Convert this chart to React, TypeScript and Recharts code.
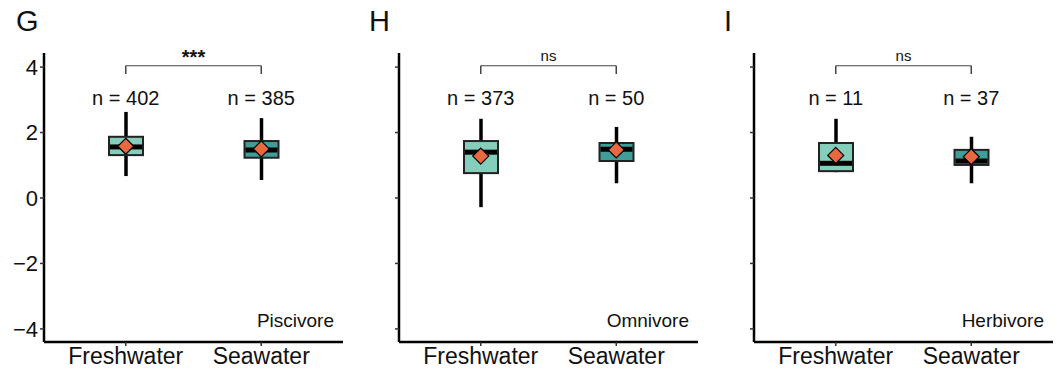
import { Bar, ComposedChart, ReferenceLine, Scatter, XAxis, YAxis } from 'recharts';

const CATEGORIES = ['Freshwater', 'Seawater'];
const PANEL_LETTERS = ['G', 'H', 'I'];
const DIETS = ['Piscivore', 'Omnivore', 'Herbivore'];
const SIGNIFICANCE = ['***', 'ns', 'ns'];
const N_COUNTS = [[402, 385], [373, 50], [11, 37]];
const WHISKER_LOW = [[0.67, 0.55], [-0.28, 0.45], [0.79, 0.45]];
const Q1 = [[1.31, 1.23], [0.76, 1.13], [0.82, 1.01]];
const MEDIAN = [[1.56, 1.47], [1.4, 1.49], [1.06, 1.13]];
const Q3 = [[1.87, 1.74], [1.74, 1.68], [1.68, 1.47]];
const WHISKER_HIGH = [[2.63, 2.44], [2.42, 2.17], [2.42, 1.87]];
const MEANS = [[1.58, 1.5], [1.28, 1.47], [1.3, 1.26]];
const Y_TICKS = [-4, -2, 0, 2, 4];

const FILLS = ['#84cebb', '#419d97'];
const N_LABEL_Y = 3.06;
const BRACKET_Y = 4.04;
const BRACKET_DROP = 3.79;
const FONT = 'Liberation Sans, Arial, sans-serif';

function BoxShape(props: any) {
  const { x, y, width, height, payload } = props;
  const span = payload.hi - payload.lo;
  const toY = (v: number) => y + ((payload.hi - v) / span) * height;
  const cx = x + width / 2;
  const top = toY(payload.q3);
  const bottom = toY(payload.q1);
  const med = toY(payload.median);
  return (
    <g>
      <line x1={cx} x2={cx} y1={y} y2={y + height} stroke="#000" strokeWidth={3.5} />
      <rect x={x} y={top} width={width} height={bottom - top} fill={payload.fill} stroke="#222" strokeWidth={2} />
      <line x1={x + 1} x2={x + width - 1} y1={med} y2={med} stroke="#000" strokeWidth={5} />
    </g>
  );
}

function Diamond(props: any) {
  const { cx, cy } = props;
  const r = 8;
  return (
    <path
      d={`M${cx},${cy - r} L${cx + r},${cy} L${cx},${cy + r} L${cx - r},${cy} Z`}
      fill="#e8693f"
      stroke="#000"
      strokeWidth={1.2}
    />
  );
}

function NLabel(props: any) {
  const { cx, cy, payload } = props;
  return (
    <text x={cx} y={cy} textAnchor="middle" dominantBaseline="central" fontSize={20} fontFamily={FONT} fill="#111">
      {`n = ${payload.n}`}
    </text>
  );
}

function Panel({ index }: { index: number }) {
  const data = CATEGORIES.map((cat, i) => ({
    cat,
    range: [WHISKER_LOW[index][i], WHISKER_HIGH[index][i]],
    lo: WHISKER_LOW[index][i],
    hi: WHISKER_HIGH[index][i],
    q1: Q1[index][i],
    q3: Q3[index][i],
    median: MEDIAN[index][i],
    mean: MEANS[index][i],
    n: N_COUNTS[index][i],
    nY: N_LABEL_Y,
    fill: FILLS[i],
  }));
  const isStars = SIGNIFICANCE[index] !== 'ns';

  return (
    <div style={{ position: 'absolute', left: index * 355, top: 0, width: 355, height: 378 }}>
      <ComposedChart width={355} height={378} data={data} margin={{ top: 53, right: 12, bottom: 6, left: 0 }}>
        <XAxis
          dataKey="cat"
          padding={{ left: 14, right: 14 }}
          height={30}
          axisLine={{ stroke: '#000', strokeWidth: 2.5 }}
          tickLine={{ stroke: '#333', strokeWidth: 1.5 }}
          tickSize={4}
          tick={{ fontSize: 23, fill: '#111', fontFamily: FONT }}
        />
        <YAxis
          domain={[-4.4, 4.43]}
          ticks={Y_TICKS}
          width={44}
          allowDataOverflow
          axisLine={{ stroke: '#000', strokeWidth: 2.5 }}
          tickLine={{ stroke: '#333', strokeWidth: 1.5 }}
          tickSize={4}
          tickFormatter={(v) => (index === 0 ? (v < 0 ? `\u2212${Math.abs(v)}` : `${v}`) : '')}
          tick={{ fontSize: 22, fill: '#111', fontFamily: FONT }}
        />
        <Bar dataKey="range" barSize={34} shape={BoxShape} isAnimationActive={false} />
        <Scatter dataKey="mean" shape={Diamond} isAnimationActive={false} />
        <Scatter dataKey="nY" shape={NLabel} isAnimationActive={false} />
        <ReferenceLine
          segment={[{ x: CATEGORIES[0], y: BRACKET_Y }, { x: CATEGORIES[1], y: BRACKET_Y }]}
          stroke="#444"
          strokeWidth={1.2}
          label={{
            value: SIGNIFICANCE[index],
            position: 'top',
            offset: isStars ? 2 : 5,
            fontSize: isStars ? 20 : 15,
            fontWeight: isStars ? 'bold' : 'normal',
            fill: '#111',
            fontFamily: FONT,
          }}
        />
        <ReferenceLine
          segment={[{ x: CATEGORIES[0], y: BRACKET_Y }, { x: CATEGORIES[0], y: BRACKET_DROP }]}
          stroke="#444"
          strokeWidth={1.5}
        />
        <ReferenceLine
          segment={[{ x: CATEGORIES[1], y: BRACKET_Y }, { x: CATEGORIES[1], y: BRACKET_DROP }]}
          stroke="#444"
          strokeWidth={1.5}
        />
      </ComposedChart>
      <div
        style={{
          position: 'absolute',
          left: index === 0 ? 16 : 14,
          top: 5,
          fontSize: 29,
          fontFamily: FONT,
          color: '#111',
          lineHeight: 1.15,
        }}
      >
        {PANEL_LETTERS[index]}
      </div>
      <div style={{ position: 'absolute', right: 21, top: 310, fontSize: 19, fontFamily: FONT, color: '#111' }}>
        {DIETS[index]}
      </div>
    </div>
  );
}

export default function App() {
  return (
    <div style={{ position: 'absolute', left: 0, top: 0, width: 1064, height: 378, background: '#fff' }}>
      {PANEL_LETTERS.map((_, i) => (
        <Panel key={i} index={i} />
      ))}
    </div>
  );
}
